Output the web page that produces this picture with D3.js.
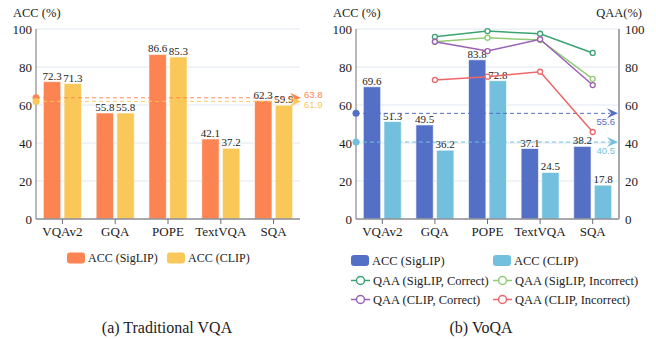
<!DOCTYPE html>
<html><head><meta charset="utf-8">
<script src="https://cdn.jsdelivr.net/npm/d3@7"></script>
<style>body{margin:0;background:#fff}svg{display:block}
.serif{font-family:"Liberation Serif",Tinos,"Times New Roman",Times,serif}
.sans{font-family:"Liberation Sans",Arimo,Arial,Helvetica,sans-serif}
</style>
</head><body>
<svg id="c" width="656" height="339"></svg>
<script>
const categories = ["VQAv2","GQA","POPE","TextVQA","SQA"];
const leftSigLIP = [72.3,55.8,86.6,42.1,62.3];
const leftCLIP = [71.3,55.8,85.3,37.2,59.9];
const leftAvg = [63.8,61.9];
const rightSigLIP = [69.6,49.5,83.8,37.1,38.2];
const rightCLIP = [51.3,36.2,72.8,24.5,17.8];
const rightAvg = [55.6,40.5];
const qaaSigLIPCorrect = [null,95.9,98.9,97.5,87.4];
const qaaSigLIPIncorrect = [null,93.3,95.4,94.2,73.8];
const qaaCLIPCorrect = [null,93.3,88.4,94.6,70.5];
const qaaCLIPIncorrect = [null,73.2,74.9,77.5,45.8];
const yTicks = [0,20,40,60,80,100];

const C = {orange:"#fc8452", yellow:"#fac858", blue:"#5470c6", lblue:"#73c0de",
  dgreen:"#3ba272", lgreen:"#91cc75", purple:"#9a60b4", red:"#ee6666"};
const svg = d3.select("#c");
const yTop = 29, yBot = 219;
const y = d3.scaleLinear().domain([0,100]).range([yBot,yTop]);

function T(sel, cls){ return sel.append("text").attr("class",cls||"serif").attr("fill","#222"); }
function arrowPath(tipX, cy){
  return `M${tipX},${cy} L${tipX-11},${cy-5} L${tipX-7},${cy} L${tipX-11},${cy+5} Z`;
}

function panel(opts){
  const g = svg.append("g");
  const x = d3.scaleBand().domain(categories).range([opts.x0, opts.x1]);
  const sub = d3.scaleBand().domain([0,1]).range([0,x.bandwidth()]).paddingInner(0.16).paddingOuter(0.355);
  g.append("g").selectAll("line").data(yTicks.filter(d=>d>0)).join("line")
    .attr("x1",opts.x0).attr("x2",opts.x1).attr("y1",d=>y(d)).attr("y2",d=>y(d))
    .attr("stroke","#e0e6f1").attr("stroke-width",1);
  g.append("g").selectAll("text").data(yTicks).join("text").attr("class","serif")
    .attr("x",opts.x0-4).attr("y",d=>y(d)).attr("dy","0.35em").attr("text-anchor","end")
    .attr("font-size",13).attr("fill","#222").text(d=>d);
  [opts.s1, opts.s2].forEach((vals,i)=>{
    g.append("g").selectAll("rect").data(vals).join("rect")
      .attr("x",(d,j)=>x(categories[j])+sub(i)).attr("width",sub.bandwidth())
      .attr("y",d=>y(d)).attr("height",d=>yBot-y(d))
      .attr("fill",[opts.c1,opts.c2][i]).attr("stroke","#fff").attr("stroke-opacity",0.6).attr("stroke-width",1);
    g.append("g").selectAll("text").data(vals).join("text").attr("class","serif")
      .attr("x",(d,j)=>x(categories[j])+sub(i)+sub.bandwidth()/2).attr("y",d=>y(d)-2)
      .attr("text-anchor","middle").attr("font-size",11).attr("fill","#222")
      .text(d=>d.toFixed(1));
  });
  g.append("line").attr("x1",opts.x0).attr("x2",opts.x0).attr("y1",yTop).attr("y2",yBot)
    .attr("stroke","#6e7079").attr("stroke-width",1);
  g.append("line").attr("x1",opts.x0).attr("x2",opts.x1).attr("y1",yBot).attr("y2",yBot)
    .attr("stroke","#8a8c94").attr("stroke-width",1.5);
  g.append("g").selectAll("line").data(categories).join("line")
    .attr("x1",d=>x(d)+x.bandwidth()/2).attr("x2",d=>x(d)+x.bandwidth()/2).attr("y1",yBot).attr("y2",yBot+5)
    .attr("stroke","#6e7079");
  g.append("g").selectAll("text").data(categories).join("text").attr("class","serif")
    .attr("x",d=>x(d)+x.bandwidth()/2).attr("y",236).attr("text-anchor","middle")
    .attr("font-size",13).attr("fill","#222").text(d=>d);
  T(g).attr("x",opts.x0-23).attr("y",17).attr("font-size",12.5).text("ACC (%)");
  return {g,x};
}

// LEFT
const L = panel({x0:36,x1:300,s1:leftSigLIP,s2:leftCLIP,c1:C.orange,c2:C.yellow});
[[leftAvg[0],C.orange,-3.5],[leftAvg[1],C.yellow,3.5]].forEach(([v,c,off])=>{
  const yy=y(v);
  L.g.append("line").attr("x1",36).attr("x2",294).attr("y1",yy).attr("y2",yy)
    .attr("stroke",c).attr("stroke-width",1).attr("stroke-dasharray","4,3").attr("opacity",0.9);
  L.g.append("circle").attr("cx",36).attr("cy",yy).attr("r",3.5).attr("fill",c);
  L.g.append("path").attr("d",arrowPath(301,yy)).attr("fill",c);
  T(L.g,"sans").attr("x",304).attr("y",yy+off).attr("dy","0.35em")
    .attr("font-size",9.5).attr("fill",c).text(v.toFixed(1));
});

// RIGHT
const R = panel({x0:356,x1:619,s1:rightSigLIP,s2:rightCLIP,c1:C.blue,c2:C.lblue});
R.g.append("line").attr("x1",619).attr("x2",619).attr("y1",yTop).attr("y2",yBot)
  .attr("stroke","#a8a8ae").attr("stroke-width",2);
R.g.append("g").selectAll("text").data(yTicks).join("text").attr("class","serif")
  .attr("x",625).attr("y",d=>y(d)).attr("dy","0.35em")
  .attr("font-size",13).attr("fill","#222").text(d=>d);
T(R.g).attr("x",642).attr("y",17).attr("text-anchor","end").attr("font-size",12.5).text("QAA(%)");
[[rightAvg[0],C.blue],[rightAvg[1],C.lblue]].forEach(([v,c])=>{
  const yy=y(v);
  R.g.append("line").attr("x1",356).attr("x2",610).attr("y1",yy).attr("y2",yy)
    .attr("stroke",c).attr("stroke-width",1).attr("stroke-dasharray","4,3");
  R.g.append("circle").attr("cx",356).attr("cy",yy).attr("r",3.5).attr("fill",c);
  R.g.append("path").attr("d",arrowPath(618,yy)).attr("fill",c);
  T(R.g,"sans").attr("x",615).attr("y",yy+8.5).attr("dy","0.35em").attr("text-anchor","end")
    .attr("font-size",9.5).attr("fill",c).text(v.toFixed(1));
});
const lineSeries = [[qaaSigLIPCorrect,C.dgreen],[qaaSigLIPIncorrect,C.lgreen],[qaaCLIPCorrect,C.purple],[qaaCLIPIncorrect,C.red]];
const cx = (i)=>R.x(categories[i])+R.x.bandwidth()/2;
lineSeries.forEach(([vals,c])=>{
  const line = d3.line().defined(d=>d!==null).x((d,i)=>cx(i)).y(d=>y(d));
  R.g.append("path").attr("d",line(vals)).attr("fill","none").attr("stroke",c).attr("stroke-width",1.5);
  R.g.append("g").selectAll("circle").data(vals.map((v,i)=>[v,i]).filter(d=>d[0]!==null)).join("circle")
    .attr("cx",d=>cx(d[1])).attr("cy",d=>y(d[0])).attr("r",2.5).attr("fill","#fff").attr("stroke",c).attr("stroke-width",1.3);
});

// LEGENDS
function rectItem(x,yc,c,label,fs){
  svg.append("rect").attr("x",x).attr("y",yc-5.5).attr("width",18).attr("height",11).attr("rx",3).attr("fill",c);
  T(svg).attr("x",x+21).attr("y",yc).attr("dy","0.35em").attr("font-size",fs||12.5).text(label);
}
function lineItem(x,yc,c,label){
  svg.append("line").attr("x1",x).attr("x2",x+19).attr("y1",yc).attr("y2",yc).attr("stroke",c).attr("stroke-width",1.5);
  svg.append("circle").attr("cx",x+9.5).attr("cy",yc).attr("r",4).attr("fill","#fff").attr("stroke",c).attr("stroke-width",1.5);
  T(svg).attr("x",x+22).attr("y",yc).attr("dy","0.35em").attr("font-size",12.5).text(label);
}
rectItem(67,258,C.orange,"ACC (SigLIP)",12);
rectItem(167,258,C.yellow,"ACC (CLIP)",12);
rectItem(351,260.5,C.blue,"ACC (SigLIP)");
rectItem(493,260.5,C.lblue,"ACC (CLIP)");
lineItem(351,280.5,C.dgreen,"QAA (SigLIP, Correct)");
lineItem(493,280.5,C.lgreen,"QAA (SigLIP, Incorrect)");
lineItem(351,299.5,C.purple,"QAA (CLIP, Correct)");
lineItem(493,299.5,C.red,"QAA (CLIP, Incorrect)");

T(svg).attr("x",167).attr("y",333).attr("text-anchor","middle").attr("font-size",16).text("(a) Traditional VQA");
T(svg).attr("x",481).attr("y",333).attr("text-anchor","middle").attr("font-size",16).text("(b) VoQA");
</script>
</body></html>
